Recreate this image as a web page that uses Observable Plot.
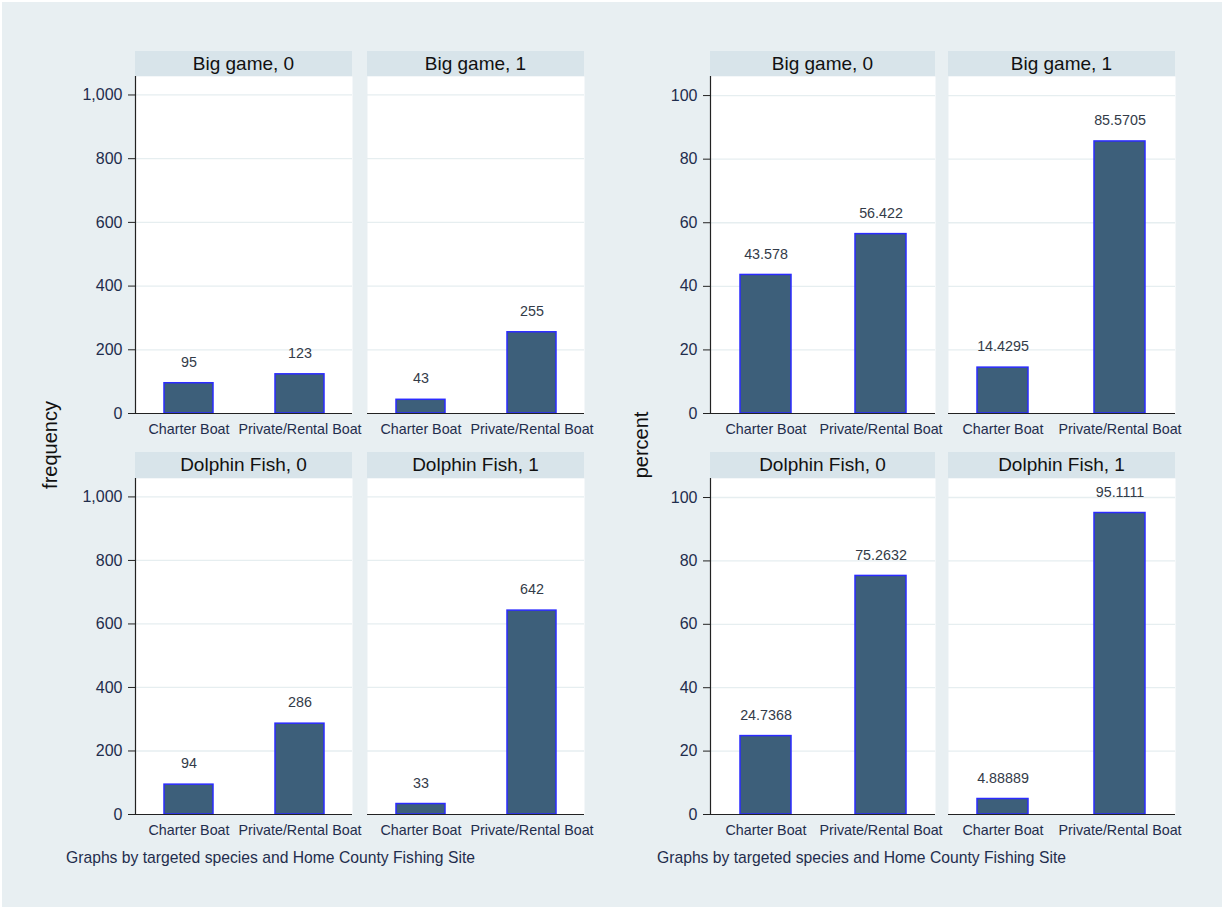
<!DOCTYPE html>
<html>
<head>
<meta charset="utf-8">
<script src="https://cdn.jsdelivr.net/npm/d3@7"></script>
<script src="https://cdn.jsdelivr.net/npm/@observablehq/plot@0.6"></script>
<style>
  html, body { margin: 0; padding: 0; background: #ffffff; }
  body { width: 1225px; height: 909px; position: relative; overflow: hidden;
         font-family: "Liberation Sans", Arial, sans-serif; }
  #bg { position: absolute; left: 2px; top: 2px; width: 1220px; height: 905px; background: #e8eff2; }
  .hdr { position: absolute; background: #d8e4ea; color: #111; font-size: 19px;
         text-align: center; white-space: nowrap; }
  .pnl { position: absolute; }
  .ytitle { position: absolute; font-size: 20px; color: #111; white-space: nowrap;
            transform: translate(-50%, -50%) rotate(-90deg); }
  .cap { position: absolute; font-size: 15.7px; color: #1f2d4d; white-space: nowrap; }
</style>
</head>
<body>
<div id="bg"></div>
<script>
// ---- data ----
const species = ["Big game", "Dolphin Fish"];
const sites = [0, 1];
const modes = ["Charter Boat", "Private/Rental Boat"];
// order: species x site x mode
const frequency = [95, 123, 43, 255, 94, 286, 33, 642];
const percent = [43.578, 56.422, 14.4295, 85.5705, 24.7368, 75.2632, 4.88889, 95.1111];
const freqTicks = [0, 200, 400, 600, 800, 1000];
const pctTicks = [0, 20, 40, 60, 80, 100];
const yTitles = ["frequency", "percent"];
const caption = "Graphs by targeted species and Home County Fishing Site";

// ---- layout ----
const graphs = [
  { values: frequency, ticks: freqTicks, top: 1058, colX: [135, 367], colW: [217, 217], title: yTitles[0], titleX: 49.5, capX: 66 },
  { values: percent, ticks: pctTicks, top: 106, colX: [710, 948], colW: [225, 227], title: yTitles[1], titleX: 641, capX: 657 }
];
const headerY = [51, 452];
const plotY = [76, 478];
const plotB = [413, 814];

const body = document.body;

graphs.forEach(g => {
  species.forEach((sp, r) => {
    sites.forEach((st, c) => {
      const data = modes.map((m, k) => {
        const v = g.values[r * 4 + c * 2 + k];
        return { mode: m, value: v, label: String(v) };
      });
      const showY = c === 0;
      const mL = showY ? 80 : 0;
      const h = plotB[r] - plotY[r];
      const w = g.colW[c];

      const hdr = document.createElement("div");
      hdr.className = "hdr";
      hdr.style.left = g.colX[c] + "px";
      hdr.style.top = headerY[r] + "px";
      hdr.style.width = w + "px";
      hdr.style.height = (plotY[r] - headerY[r]) + "px";
      hdr.style.lineHeight = (plotY[r] - headerY[r]) + "px";
      hdr.textContent = sp + ", " + st;
      body.appendChild(hdr);

      const chart = Plot.plot({
        width: w + mL,
        height: h + 40,
        marginLeft: mL, marginRight: 0, marginTop: 0, marginBottom: 40,
        style: { background: "transparent", overflow: "visible",
                 fontFamily: "'Liberation Sans', Arial, sans-serif", fontSize: "14.3px" },
        x: { type: "band", domain: modes, paddingInner: 0.56, paddingOuter: 0.25, axis: null },
        y: { domain: [0, g.top], axis: null },
        marks: [
          Plot.frame({ fill: "white", stroke: null }),
          Plot.gridY(g.ticks.filter(t => t > 0), { stroke: "#e6eef0", strokeOpacity: 1, strokeWidth: 1.3 }),
          Plot.barY(data, { x: "mode", y: "value", fill: "#3d5f7a", stroke: "#2b2bff", strokeWidth: 1.5 }),
          Plot.text(data, { x: "mode", y: "value", text: "label", dy: -21, fontSize: 14.3, fill: "#333b48" }),
          Plot.ruleY([0], { stroke: "#222", strokeWidth: 1.2 }),
          Plot.axisX({ tickSize: 0, tickPadding: 10, fontSize: 14.3, fill: "#1f2d4d", label: null }),
          showY ? Plot.axisY({ ticks: g.ticks, tickFormat: d3.format(","), tickSize: 7, tickPadding: 6,
                               fontSize: 16, label: null, stroke: "#222", fill: "#1f2d4d" }) : null,
          showY ? Plot.frame({ anchor: "left", stroke: "#222", strokeWidth: 1.2 }) : null
        ]
      });
      const wrap = document.createElement("div");
      wrap.className = "pnl";
      wrap.style.left = (g.colX[c] - mL) + "px";
      wrap.style.top = plotY[r] + "px";
      wrap.appendChild(chart);
      body.appendChild(wrap);
    });
  });

  const t = document.createElement("div");
  t.className = "ytitle";
  t.style.left = g.titleX + "px";
  t.style.top = "445px";
  t.textContent = g.title;
  body.appendChild(t);

  const cap = document.createElement("div");
  cap.className = "cap";
  cap.style.left = g.capX + "px";
  cap.style.top = "849px";
  cap.textContent = caption;
  body.appendChild(cap);
});
</script>
</body>
</html>
